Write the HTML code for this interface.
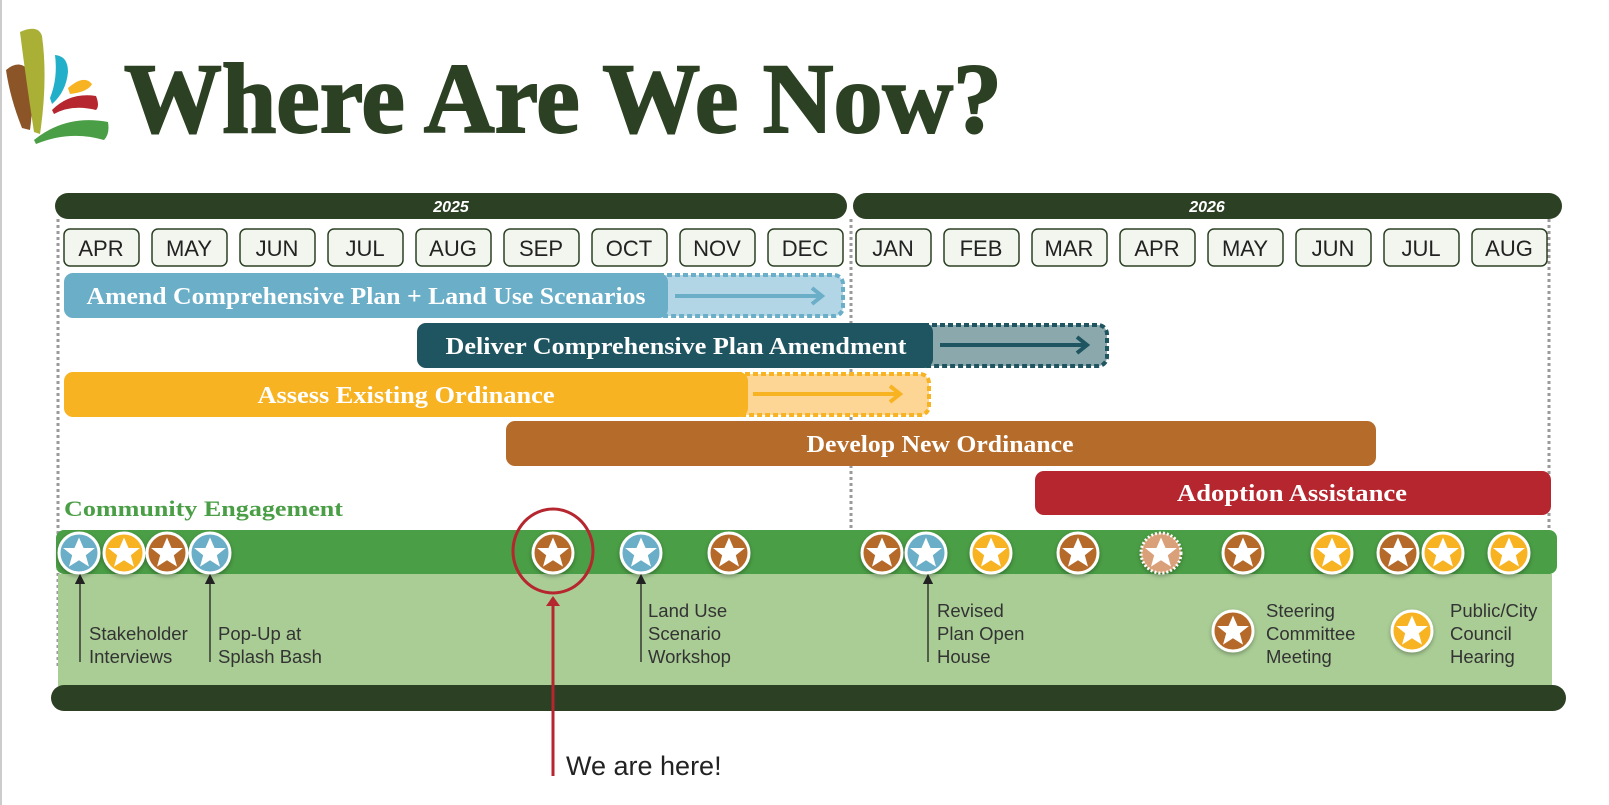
<!DOCTYPE html>
<html><head><meta charset="utf-8"><style>
html,body{margin:0;padding:0;background:#fff;}
svg{display:block;}
.m{font-family:"Liberation Sans",sans-serif;font-size:22px;fill:#222;}
.b{font-family:"Liberation Serif",serif;font-weight:bold;font-size:24px;fill:#fff;}
.s{font-family:"Liberation Sans",sans-serif;font-size:18.5px;fill:#333;}
</style></head><body>
<svg width="1609" height="805" viewBox="0 0 1609 805" xmlns="http://www.w3.org/2000/svg">
<defs>
<symbol id="st" viewBox="-22 -22 44 44">
<polygon points="0,-17 5,-5.5 17.5,-5.5 7.5,2.5 11,15 0,8 -11,15 -7.5,2.5 -17.5,-5.5 -5,-5.5" fill="#fff"/>
</symbol>
<marker id="ar" markerWidth="8" markerHeight="8" refX="4" refY="4" orient="auto-start-reverse"><path d="M0,0L8,4L0,8z" fill="#222"/></marker>
<filter id="sh" x="-30%" y="-30%" width="160%" height="160%"><feDropShadow dx="0" dy="2" stdDeviation="2" flood-opacity="0.3"/></filter>
</defs>
<line x1="1" y1="0" x2="1" y2="805" stroke="#ccc" stroke-width="2"/>
<!-- logo -->
<path d="M6,70 Q20,58 30,72 Q34,102 30,130 L22,128 Q10,98 6,70z" fill="#8b5528"/>
<path d="M20,32 Q38,24 42,36 Q48,80 40,134 L34,132 Q26,80 20,32z" fill="#a9b035"/>
<path d="M55,55 Q68,56 68,72 Q66,92 52,104 L50,98 Q58,78 55,55z" fill="#22afc9"/>
<path d="M68,88 Q84,74 92,84 Q88,92 70,94z" fill="#f7b322"/>
<path d="M52,110 Q70,92 96,96 Q100,106 96,110 Q72,104 54,114z" fill="#b5262f"/>
<path d="M34,140 Q66,114 108,122 Q110,134 104,140 Q70,130 36,144z" fill="#4a9e45"/>
<text x="124" y="132" font-family="Liberation Serif,serif" font-weight="bold" font-size="100" fill="#2c4023" stroke="#2c4023" stroke-width="2" textLength="878" lengthAdjust="spacingAndGlyphs">Where Are We Now?</text>
<!-- dashed verticals -->
<g stroke="#9a9a9a" stroke-width="3" stroke-dasharray="3,3">
<line x1="58" y1="219" x2="58" y2="666"/><line x1="851" y1="219" x2="851" y2="530"/><line x1="1549" y1="219" x2="1549" y2="666"/></g>
<!-- year bars -->
<rect x="55" y="193" width="792" height="26" rx="13" fill="#2c4023"/>
<rect x="853" y="193" width="709" height="26" rx="13" fill="#2c4023"/>
<text x="451" y="212" font-family="Liberation Sans,sans-serif" font-weight="bold" font-style="italic" font-size="16" fill="#fff" text-anchor="middle">2025</text>
<text x="1207" y="212" font-family="Liberation Sans,sans-serif" font-weight="bold" font-style="italic" font-size="16" fill="#fff" text-anchor="middle">2026</text>
<!-- months -->
<g fill="#f3f6ef" stroke="#2c4023" stroke-width="1.5">
<rect x="64" y="229" width="75" height="37" rx="6"/><rect x="152" y="229" width="75" height="37" rx="6"/><rect x="240" y="229" width="75" height="37" rx="6"/><rect x="328" y="229" width="75" height="37" rx="6"/><rect x="416" y="229" width="75" height="37" rx="6"/><rect x="504" y="229" width="75" height="37" rx="6"/><rect x="592" y="229" width="75" height="37" rx="6"/><rect x="680" y="229" width="75" height="37" rx="6"/><rect x="768" y="229" width="75" height="37" rx="6"/><rect x="856" y="229" width="75" height="37" rx="6"/><rect x="944" y="229" width="75" height="37" rx="6"/><rect x="1032" y="229" width="75" height="37" rx="6"/><rect x="1120" y="229" width="75" height="37" rx="6"/><rect x="1208" y="229" width="75" height="37" rx="6"/><rect x="1296" y="229" width="75" height="37" rx="6"/><rect x="1384" y="229" width="75" height="37" rx="6"/><rect x="1472" y="229" width="75" height="37" rx="6"/></g>
<g class="m" text-anchor="middle">
<text x="101" y="256">APR</text><text x="189" y="256">MAY</text><text x="277" y="256">JUN</text><text x="365" y="256">JUL</text><text x="453" y="256">AUG</text><text x="541" y="256">SEP</text><text x="629" y="256">OCT</text><text x="717" y="256">NOV</text><text x="805" y="256">DEC</text><text x="893" y="256">JAN</text><text x="981" y="256">FEB</text><text x="1069" y="256">MAR</text><text x="1157" y="256">APR</text><text x="1245" y="256">MAY</text><text x="1333" y="256">JUN</text><text x="1421" y="256">JUL</text><text x="1509" y="256">AUG</text></g>
<!-- task bars -->
<rect x="650" y="275" width="193" height="41" rx="9" fill="#b3d6e6" stroke="#6aaec8" stroke-width="4" stroke-dasharray="5,3"/>
<rect x="64" y="273" width="604" height="45" rx="9" fill="#6aaec8"/>
<line x1="675" y1="296" x2="822" y2="296" stroke="#6aaec8" stroke-width="4"/><path d="M812,288 L822,296 L812,304" fill="none" stroke="#6aaec8" stroke-width="4"/>
<text class="b" x="366" y="304" text-anchor="middle" textLength="559" lengthAdjust="spacingAndGlyphs">Amend Comprehensive Plan + Land Use Scenarios</text>

<rect x="915" y="325" width="192" height="41" rx="9" fill="#8ba9ad" stroke="#1f5461" stroke-width="4" stroke-dasharray="5,3"/>
<rect x="417" y="323" width="516" height="45" rx="9" fill="#1f5461"/>
<line x1="940" y1="345" x2="1087" y2="345" stroke="#1f5461" stroke-width="4"/><path d="M1077,337 L1087,345 L1077,353" fill="none" stroke="#1f5461" stroke-width="4"/>
<text class="b" x="676" y="354" text-anchor="middle" textLength="461" lengthAdjust="spacingAndGlyphs">Deliver Comprehensive Plan Amendment</text>

<rect x="728" y="374" width="201" height="41" rx="9" fill="#fdd594" stroke="#f7b322" stroke-width="4" stroke-dasharray="5,3"/>
<rect x="64" y="372" width="684" height="45" rx="9" fill="#f7b322"/>
<line x1="753" y1="394" x2="900" y2="394" stroke="#f7b322" stroke-width="4"/><path d="M890,386 L900,394 L890,402" fill="none" stroke="#f7b322" stroke-width="4"/>
<text class="b" x="406" y="403" text-anchor="middle" textLength="297" lengthAdjust="spacingAndGlyphs">Assess Existing Ordinance</text>

<rect x="506" y="421" width="870" height="45" rx="9" fill="#b56b2a"/>
<text class="b" x="940" y="452" text-anchor="middle" textLength="267" lengthAdjust="spacingAndGlyphs">Develop New Ordinance</text>
<rect x="1035" y="471" width="516" height="44" rx="9" fill="#b5262f"/>
<text class="b" x="1292" y="501" text-anchor="middle" textLength="230" lengthAdjust="spacingAndGlyphs">Adoption Assistance</text>

<text x="64" y="516" font-family="Liberation Serif,serif" font-weight="bold" font-size="22" fill="#4a9e45" textLength="279" lengthAdjust="spacingAndGlyphs">Community Engagement</text>
<!-- engagement band -->
<rect x="58" y="574" width="1494" height="112" fill="#a9cd95"/>
<rect x="56" y="530" width="1501" height="44" rx="8" fill="#4a9e45"/>
<rect x="51" y="685" width="1515" height="26" rx="13" fill="#2c4023"/>
<!-- stars -->
<g filter="url(#sh)" stroke="#fff" stroke-width="3">
<circle cx="79" cy="553" r="20" fill="#6aaec8"/><circle cx="124" cy="553" r="20" fill="#f7b322"/><circle cx="167" cy="553" r="20" fill="#b56b2a"/><circle cx="210" cy="553" r="20" fill="#6aaec8"/>
<circle cx="553" cy="553" r="20" fill="#b56b2a"/><circle cx="641" cy="553" r="20" fill="#6aaec8"/><circle cx="729" cy="553" r="20" fill="#b56b2a"/>
<circle cx="882" cy="553" r="20" fill="#b56b2a"/><circle cx="926" cy="553" r="20" fill="#6aaec8"/><circle cx="991" cy="553" r="20" fill="#f7b322"/><circle cx="1078" cy="553" r="20" fill="#b56b2a"/>
<circle cx="1161" cy="553" r="20" fill="#d9a07a" stroke-dasharray="2,2"/><circle cx="1243" cy="553" r="20" fill="#b56b2a"/><circle cx="1332" cy="553" r="20" fill="#f7b322"/><circle cx="1398" cy="553" r="20" fill="#b56b2a"/><circle cx="1443" cy="553" r="20" fill="#f7b322"/><circle cx="1509" cy="553" r="20" fill="#f7b322"/>
<circle cx="1233" cy="631" r="20" fill="#b56b2a"/><circle cx="1412" cy="631" r="20" fill="#f7b322"/>
</g>
<g>
<use href="#st" x="59" y="533" width="40" height="40"/><use href="#st" x="104" y="533" width="40" height="40"/><use href="#st" x="147" y="533" width="40" height="40"/><use href="#st" x="190" y="533" width="40" height="40"/>
<use href="#st" x="533" y="533" width="40" height="40"/><use href="#st" x="621" y="533" width="40" height="40"/><use href="#st" x="709" y="533" width="40" height="40"/>
<use href="#st" x="862" y="533" width="40" height="40"/><use href="#st" x="906" y="533" width="40" height="40"/><use href="#st" x="971" y="533" width="40" height="40"/><use href="#st" x="1058" y="533" width="40" height="40"/>
<use href="#st" x="1141" y="533" width="40" height="40"/><use href="#st" x="1223" y="533" width="40" height="40"/><use href="#st" x="1312" y="533" width="40" height="40"/><use href="#st" x="1378" y="533" width="40" height="40"/><use href="#st" x="1423" y="533" width="40" height="40"/><use href="#st" x="1489" y="533" width="40" height="40"/>
<use href="#st" x="1213" y="611" width="40" height="40"/><use href="#st" x="1392" y="611" width="40" height="40"/>
</g>
<!-- we are here -->
<ellipse cx="553" cy="551" rx="40" ry="42" fill="none" stroke="#b5262f" stroke-width="3"/>
<line x1="553" y1="605" x2="553" y2="776" stroke="#b5262f" stroke-width="3"/>
<path d="M546,606 L553,596 L560,606z" fill="#b5262f"/>
<text x="566" y="775" font-family="Liberation Sans,sans-serif" font-size="27" fill="#222">We are here!</text>
<!-- annotations -->
<g stroke="#222" stroke-width="1.3" marker-start="url(#ar)">
<line x1="80" y1="579" x2="80" y2="662"/><line x1="210" y1="579" x2="210" y2="662"/><line x1="641" y1="579" x2="641" y2="662"/><line x1="928" y1="579" x2="928" y2="662"/></g>
<g class="s">
<text x="89" y="640">Stakeholder</text><text x="89" y="663">Interviews</text>
<text x="218" y="640">Pop-Up at</text><text x="218" y="663">Splash Bash</text>
<text x="648" y="617">Land Use</text><text x="648" y="640">Scenario</text><text x="648" y="663">Workshop</text>
<text x="937" y="617">Revised</text><text x="937" y="640">Plan Open</text><text x="937" y="663">House</text>
<text x="1266" y="617">Steering</text><text x="1266" y="640">Committee</text><text x="1266" y="663">Meeting</text>
<text x="1450" y="617">Public/City</text><text x="1450" y="640">Council</text><text x="1450" y="663">Hearing</text>
</g>
</svg>
</body></html>
